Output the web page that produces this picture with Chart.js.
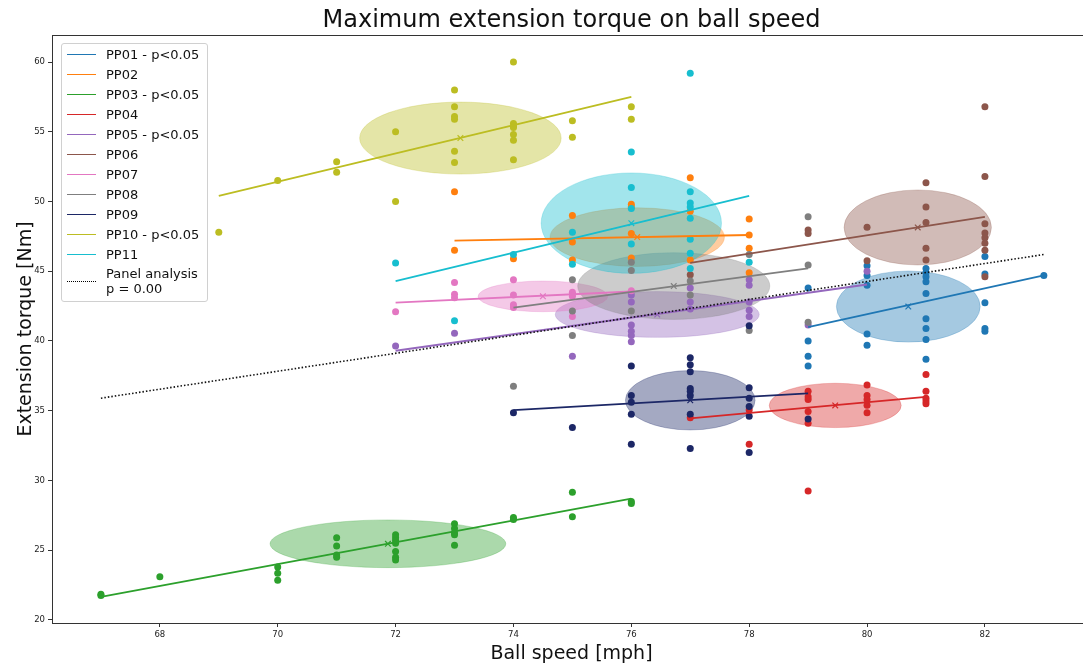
<!DOCTYPE html>
<html>
<head>
<meta charset="utf-8">
<title>Maximum extension torque on ball speed</title>
<script src="https://cdn.jsdelivr.net/npm/chart.js@4.4.0/dist/chart.umd.min.js"></script>
<style>
    html, body { margin: 0; padding: 0; background: #fff; overflow: hidden; }
    #wrap { position: relative; width: 1100px; height: 666px; }
    #legend {
        position: absolute; left: 61px; top: 43px; width: 145px;
        padding: 0 0 5px 0; border: 1px solid #d0d0d0; border-radius: 3px;
        background: rgba(255, 255, 255, 0.8);
        font: 13px 'DejaVu Sans', sans-serif; color: #111;
    }
    .row { display: flex; align-items: center; height: 20px; }
    .swatch { flex: none; width: 29px; margin: 0 10px 0 5px; border-top: 1.5px solid; }
    .panel { height: 30px; padding-top: 2px; line-height: 15px; }
    .panel .swatch { border-top: 1.5px dotted #000; }
</style>
</head>
<body>
<div id="wrap">
    <canvas id="torqueChart" width="1100" height="666"></canvas>
    <div id="legend"></div>
</div>
<script>
document.addEventListener('DOMContentLoaded', function () {
    const speedTicks = [68, 70, 72, 74, 76, 78, 80, 82];
    const torqueTicks = [20, 25, 30, 35, 40, 45, 50, 55, 60];

    const participants = ['PP01 - p<0.05', 'PP02', 'PP03 - p<0.05', 'PP04', 'PP05 - p<0.05',
        'PP06', 'PP07', 'PP08', 'PP09', 'PP10 - p<0.05', 'PP11'];

    // [ball speed mph, extension torque Nm] per trial
    const pp01 = [[79, 43.8], [79, 40.0], [79, 38.9], [79, 38.2],
        [80, 45.4], [80, 44.7], [80, 44.0], [80, 40.5], [80, 39.7],
        [81, 45.2], [81, 44.9], [81, 44.6], [81, 44.25], [81, 43.4], [81, 41.6], [81, 40.9], [81, 40.1], [81, 38.7],
        [82, 46.05], [82, 44.8], [82, 42.75], [82, 40.9], [82, 40.7], [83, 44.7]];
    const pp02 = [[73, 50.7], [73, 46.5], [74, 45.9], [75, 49.0], [75, 47.1], [75, 45.8],
        [76, 49.8], [76, 49.6], [76, 47.7], [76, 45.95], [77, 51.7], [77, 49.3], [77, 45.8],
        [78, 48.75], [78, 47.6], [78, 46.65], [78, 44.9]];
    const pp03 = [[67, 21.85], [67, 21.75], [68, 23.1], [70, 23.8], [70, 23.35], [70, 22.85],
        [71, 25.9], [71, 25.3], [71, 24.65], [71, 24.5],
        [72, 26.1], [72, 25.9], [72, 25.7], [72, 25.5], [72, 24.9], [72, 24.5], [72, 24.3],
        [73, 26.9], [73, 26.55], [73, 26.25], [73, 26.1], [73, 25.35],
        [74, 27.35], [74, 27.2], [75, 29.15], [75, 27.4], [76, 28.5], [76, 28.35]];
    const pp04 = [[77, 34.5], [78, 35.05], [78, 32.6],
        [79, 36.4], [79, 36.0], [79, 35.8], [79, 34.95], [79, 34.1], [79, 29.25],
        [80, 36.85], [80, 36.1], [80, 35.8], [80, 35.4], [80, 34.85],
        [81, 37.6], [81, 36.4], [81, 35.9], [81, 35.7], [81, 35.5]];
    const pp05 = [[72, 39.65], [73, 40.55], [75, 38.9],
        [76, 43.3], [76, 42.8], [76, 41.15], [76, 40.7], [76, 40.4], [76, 39.95],
        [77, 43.8], [77, 42.8], [77, 42.3],
        [78, 44.4], [78, 44.0], [78, 42.8], [78, 42.2], [78, 41.75], [79, 41.15], [80, 45.0]];
    const pp06 = [[77, 44.75], [79, 47.95], [79, 47.7], [80, 48.15], [80, 45.75],
        [81, 51.35], [81, 49.6], [81, 48.5], [81, 46.65], [81, 45.8],
        [82, 56.8], [82, 51.8], [82, 48.4], [82, 47.75], [82, 47.4], [82, 47.0], [82, 46.5], [82, 44.6]];
    const pp07 = [[72, 42.1], [73, 44.2], [73, 43.35], [73, 43.1],
        [74, 44.4], [74, 43.3], [74, 42.6], [74, 42.4],
        [75, 43.5], [75, 43.35], [75, 43.2], [75, 41.75], [76, 43.6]];
    const pp08 = [[74, 36.75], [75, 44.4], [75, 42.15], [75, 40.4],
        [76, 45.65], [76, 45.05], [76, 42.15], [77, 44.3], [77, 43.3],
        [78, 46.2], [78, 40.75], [79, 48.9], [79, 45.45], [79, 41.35]];
    const pp09 = [[74, 34.85], [75, 33.8],
        [76, 38.2], [76, 36.1], [76, 35.6], [76, 34.75], [76, 32.6],
        [77, 38.8], [77, 38.3], [77, 37.8], [77, 36.6], [77, 36.4], [77, 36.1], [77, 34.75], [77, 32.3],
        [78, 41.1], [78, 36.65], [78, 35.9], [78, 35.3], [78, 34.6], [78, 32.0], [79, 34.4]];
    const pp10 = [[69, 47.8], [70, 51.5], [71, 52.85], [71, 52.1], [72, 55.0], [72, 50.0],
        [73, 58.0], [73, 56.8], [73, 56.1], [73, 55.9], [73, 53.6], [73, 52.8],
        [74, 60.0], [74, 55.6], [74, 55.4], [74, 55.3], [74, 54.8], [74, 54.4], [74, 53.0],
        [75, 55.8], [75, 54.6], [76, 56.8], [76, 55.9]];
    const pp11 = [[72, 45.6], [73, 41.45], [74, 46.2], [75, 47.8], [75, 45.5],
        [76, 53.55], [76, 51.0], [76, 49.5], [76, 46.95],
        [77, 59.2], [77, 50.7], [77, 49.9], [77, 49.6], [77, 48.8], [77, 47.3], [77, 46.3], [77, 45.2],
        [78, 45.65]];
    const trials = [pp01, pp02, pp03, pp04, pp05, pp06, pp07, pp08, pp09, pp10, pp11];

    // regression line per participant: speed range and fitted torque at both ends
    const fitSpeed = [[79, 83], [73, 78], [67, 76], [77, 81], [72, 80], [77, 82],
        [72, 76], [74, 79], [74, 79], [69, 76], [72, 78]];
    const fitTorque = [[41.0, 44.7], [47.2, 47.6], [21.65, 28.7], [34.45, 36.0], [39.3, 44.05], [45.6, 48.9],
        [42.75, 43.55], [42.4, 45.2], [35.05, 36.25], [50.4, 57.5], [44.3, 50.4]];

    // participant means and spread (ellipse half axes)
    const meanSpeed = [80.7, 76.1, 71.87, 79.46, 76.44, 80.86, 74.5, 76.72, 77.0, 73.1, 76.0];
    const meanTorque = [42.47, 47.45, 25.46, 35.38, 41.9, 48.14, 43.2, 43.94, 35.75, 54.55, 48.45];
    const spreadSpeed = [1.22, 1.48, 2.0, 1.12, 1.73, 1.25, 1.1, 1.63, 1.1, 1.71, 1.53];
    const spreadTorque = [2.55, 2.1, 1.71, 1.59, 1.64, 2.69, 1.1, 2.39, 2.13, 2.58, 3.6];

    // pooled panel regression
    const panelSpeed = [67, 83];
    const panelTorque = [35.9, 46.2];

    const colours = ['#1f77b4', '#ff7f0e', '#2ca02c', '#d62728', '#9467bd', '#8c564b',
        '#e377c2', '#7f7f7f', '#1c2766', '#bcbd22', '#17becf'];

    function rgba(hex, a) {
        const n = parseInt(hex.slice(1), 16);
        return `rgba(${(n >> 16) & 255}, ${(n >> 8) & 255}, ${n & 255}, ${a})`;
    }

    Chart.defaults.font.family = "'DejaVu Sans', sans-serif";

    const datasets = [];
    trials.forEach((pts, i) => {
        datasets.push({
            label: participants[i],
            data: pts.map(p => ({ x: p[0], y: p[1] })),
            backgroundColor: colours[i],
            borderWidth: 0,
            pointRadius: 3.5,
            order: 100 - i
        });
        datasets.push({
            label: participants[i] + ' fit',
            data: fitSpeed[i].map((s, k) => ({ x: s, y: fitTorque[i][k] })),
            showLine: true,
            borderColor: colours[i],
            borderWidth: 1.8,
            pointRadius: 0,
            order: 50 - i
        });
        datasets.push({
            label: participants[i] + ' mean',
            data: [{ x: meanSpeed[i], y: meanTorque[i] }],
            pointStyle: 'crossRot',
            pointRadius: 4,
            borderColor: colours[i],
            borderWidth: 1.2,
            order: 20 - i
        });
    });
    datasets.push({
        label: 'Panel analysis',
        data: panelSpeed.map((s, k) => ({ x: s, y: panelTorque[k] })),
        showLine: true,
        borderColor: '#111',
        borderWidth: 1.6,
        borderDash: [1.5, 2],
        pointRadius: 0,
        order: 0
    });

    const ellipses = {
        id: 'ellipses',
        beforeDatasetsDraw(chart) {
            const { ctx, chartArea, scales: { x, y } } = chart;
            ctx.save();
            ctx.beginPath();
            ctx.rect(chartArea.left, chartArea.top, chartArea.right - chartArea.left, chartArea.bottom - chartArea.top);
            ctx.clip();
            meanSpeed.forEach((m, i) => {
                const cx = x.getPixelForValue(m);
                const cy = y.getPixelForValue(meanTorque[i]);
                const rx = Math.abs(x.getPixelForValue(m + spreadSpeed[i]) - cx);
                const ry = Math.abs(y.getPixelForValue(meanTorque[i] + spreadTorque[i]) - cy);
                ctx.beginPath();
                ctx.ellipse(cx, cy, rx, ry, 0, 0, Math.PI * 2);
                ctx.fillStyle = rgba(colours[i], 0.4);
                ctx.fill();
                ctx.strokeStyle = rgba(colours[i], 0.25);
                ctx.lineWidth = 1;
                ctx.stroke();
            });
            ctx.restore();
        }
    };

    const frameAndTitle = {
        id: 'frameAndTitle',
        afterDraw(chart) {
            const { ctx, chartArea: a } = chart;
            ctx.save();
            ctx.strokeStyle = '#333';
            ctx.lineWidth = 1;
            ctx.strokeRect(a.left + 0.5, a.top + 0.5, a.right - a.left, a.bottom - a.top);
            ctx.fillStyle = '#111';
            ctx.font = "24px 'DejaVu Sans', sans-serif";
            ctx.textAlign = 'center';
            ctx.textBaseline = 'middle';
            ctx.fillText('Maximum extension torque on ball speed', (a.left + a.right) / 2, 21);
            ctx.restore();
        }
    };

    new Chart(document.getElementById('torqueChart').getContext('2d'), {
        type: 'scatter',
        data: { datasets: datasets },
        options: {
            responsive: false,
            animation: false,
            devicePixelRatio: 1,
            layout: { padding: { top: 35, right: 9, left: 0, bottom: 0 } },
            plugins: { legend: { display: false }, tooltip: { enabled: false } },
            scales: {
                x: {
                    type: 'linear',
                    min: 66.17,
                    max: 83.8,
                    afterBuildTicks: s => { s.ticks = speedTicks.map(v => ({ value: v })); },
                    afterFit: s => { s.height = 43; },
                    ticks: { font: { size: 8.5 }, color: '#222', padding: 3 },
                    grid: { display: true, drawOnChartArea: false, tickLength: 4, color: '#333' },
                    border: { color: '#333' },
                    title: { display: true, text: 'Ball speed [mph]', font: { size: 19 }, color: '#111', padding: { top: 0, bottom: 1 } }
                },
                y: {
                    type: 'linear',
                    min: 19.78,
                    max: 61.94,
                    afterBuildTicks: s => { s.ticks = torqueTicks.map(v => ({ value: v })); },
                    afterFit: s => { s.width = 52; },
                    ticks: { font: { size: 8.5 }, color: '#222', padding: 3 },
                    grid: { display: true, drawOnChartArea: false, tickLength: 4, color: '#333' },
                    border: { color: '#333' },
                    title: { display: true, text: 'Extension torque [Nm]', font: { size: 19 }, color: '#111', padding: { top: 15, bottom: 0 } }
                }
            }
        },
        plugins: [ellipses, frameAndTitle]
    });

    // legend box in the upper-left corner of the plot
    const legend = document.getElementById('legend');
    participants.forEach((name, i) => {
        const row = document.createElement('div');
        row.className = 'row';
        row.innerHTML = `<span class="swatch" style="border-color:${colours[i]}"></span><span>${name.replace('<', '&lt;')}</span>`;
        legend.appendChild(row);
    });
    const panelRow = document.createElement('div');
    panelRow.className = 'row panel';
    panelRow.innerHTML = '<span class="swatch"></span><span>Panel analysis<br>p = 0.00</span>';
    legend.appendChild(panelRow);
});
</script>
</body>
</html>
